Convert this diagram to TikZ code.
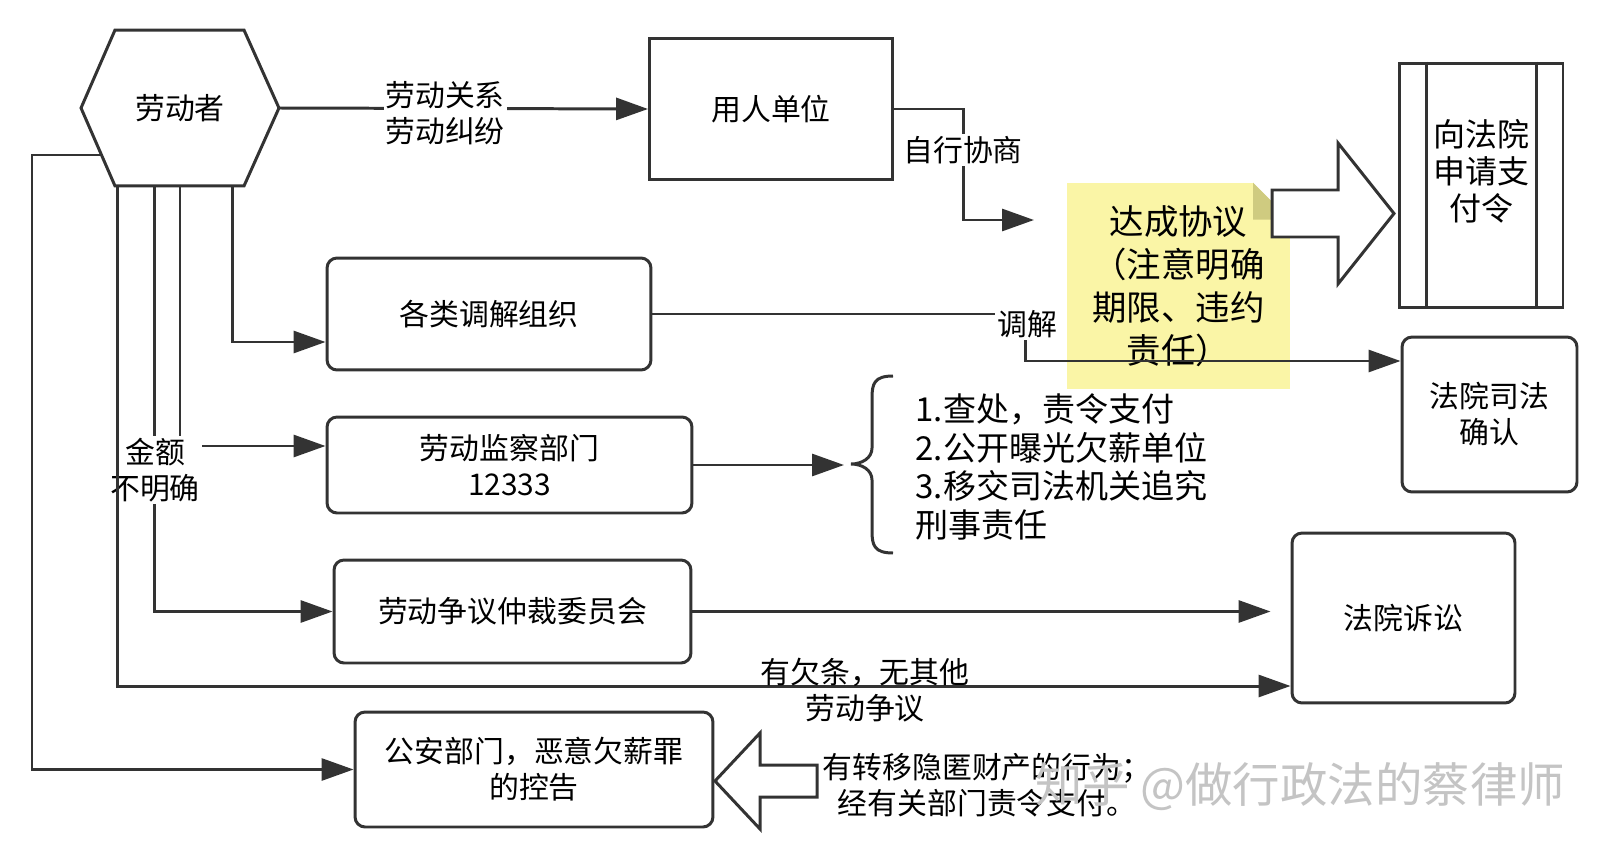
\documentclass[tikz,border=0pt]{standalone}
\usepackage{fontspec}
\setmainfont{Noto Sans CJK SC}
\usetikzlibrary{arrows.meta, positioning, calc}
\definecolor{ink}{HTML}{333333}
\definecolor{notefill}{HTML}{FAF5A6}
\definecolor{notefold}{HTML}{CFCB80}
\definecolor{wmark}{HTML}{C4C4C4}
\newcommand{\fsBase}{\fontsize{17pt}{20.5pt}\selectfont}
\newcommand{\fsNote}{\fontsize{19.6pt}{24.5pt}\selectfont}
\newcommand{\fsPay}{\fontsize{18.2pt}{21pt}\selectfont}
\newcommand{\fsList}{\fontsize{18.8pt}{22pt}\selectfont}

\begin{document}
\begin{tikzpicture}[
  x=0.02cm, y=-0.02cm,
  line width=1.7pt,
  box/.style={draw=ink, line width=1.7pt, align=center, font=\fsBase, inner sep=2pt},
  rbox/.style={box, rounded corners=0.2cm},
  wire/.style={draw=ink, line width=1.7pt},
  arr/.style={wire, -{Triangle[length=0.64cm, width=0.44cm]}},
  lbl/.style={font=\fsBase, align=center, fill=white, inner sep=1pt},
  hollow/.style={draw=ink, line width=1.7pt, fill=white, line join=miter}
]
  \useasboundingbox (0,0) rectangle (1602,848);
  \fill[white] (0,0) rectangle (1602,848);

  % agreement note (behind the connectors)
  \node[fill=notefill, minimum width=4.46cm, minimum height=4.14cm, align=center,
        font=\fsNote, inner sep=0pt, outer sep=0pt] (agree) at (1178.5,286)
        {达成协议\\（注意明确\\期限、违约\\责任）};
  \fill[white] ([xshift=-0.74cm]agree.north east) -- (agree.north east)
        -- ([yshift=-0.74cm]agree.north east) -- cycle;
  \fill[notefold] ([xshift=-0.74cm]agree.north east)
        -- ([xshift=-0.74cm, yshift=-0.74cm]agree.north east)
        -- ([yshift=-0.74cm]agree.north east) -- cycle;

  % worker hexagon
  \node[font=\fsBase, minimum width=3.96cm, minimum height=3.12cm, outer sep=0pt] (worker) at (180,108) {劳动者};
  \draw[wire] (worker.west) -- ([xshift=0.68cm]worker.north west) -- ([xshift=-0.7cm]worker.north east)
        -- (worker.east) -- ([xshift=-0.7cm]worker.south east) -- ([xshift=0.68cm]worker.south west) -- cycle;

  \node[box, minimum width=4.86cm, minimum height=2.84cm] (employer) at (771,109) {用人单位};

  \node[box, minimum width=3.28cm, minimum height=4.9cm] (payorder) at (1481,185.5) {};
  \draw[wire] ([xshift=0.58cm]payorder.north west) -- ([xshift=0.58cm]payorder.south west);
  \draw[wire] ([xshift=-0.56cm]payorder.north east) -- ([xshift=-0.56cm]payorder.south east);
  \node[font=\fsPay, align=center] (paytext) at (1481,171) {向法院\\申请支\\付令};

  \node[rbox, minimum width=6.48cm, minimum height=2.24cm] (mediate) at (489,314) {各类调解组织};
  \node[rbox, minimum width=3.5cm, minimum height=3.1cm] (confirm) at (1489.5,414.5) {法院司法\\确认};
  \node[rbox, minimum width=7.3cm, minimum height=1.92cm] (inspect) at (509.5,465) {劳动监察部门\\12333};
  \node[rbox, minimum width=7.14cm, minimum height=2.06cm] (arbit) at (512.5,611.5) {劳动争议仲裁委员会};
  \node[rbox, minimum width=4.46cm, minimum height=3.4cm] (court) at (1403.5,618) {法院诉讼};
  \node[rbox, minimum width=7.16cm, minimum height=2.3cm] (police) at (534,769.5) {公安部门，恶意欠薪罪\\的控告};

  \node[font=\fsList, align=left, anchor=west, inner sep=0pt] (actions) at (914,467)
        {1.查处，责令支付\\2.公开曝光欠薪单位\\3.移交司法机关追究\\刑事责任};

  \coordinate (negBend) at (963,220);
  \coordinate (negEnd) at (1034,220);
  \coordinate (hexL) at (101,155);
  \coordinate (medBend) at (1025,361);
  \coordinate (medRow) at (0,342);
  \coordinate (amtRow) at (0,446);
  \coordinate (iouRow) at (0,686);
  \coordinate (braceTip) at (844,465);

  % connectors
  \draw[arr] (worker.east) -- node[lbl, pos=0.45, yshift=-0.1cm] {劳动关系\\劳动纠纷} (employer.west);
  \draw[arr] (employer.east) -| (negBend) -- (negEnd);
  \node[lbl] (negLbl) at (963,150) {自行协商};

  \draw[arr] (mediate.east) -| (medBend) -- (medBend -| confirm.west);
  \node[lbl] (medLbl) at (1027,324) {调解};

  \draw[arr] ([xshift=1.06cm]worker.south) |- (medRow -| mediate.west);
  \draw[arr] (worker.south) |- (amtRow -| inspect.west);
  \draw[arr] ([xshift=-0.52cm]worker.south) |- (arbit.west);
  \node[lbl] (amtLbl) at (155,470) {金额\\不明确};
  \draw[arr] ([xshift=-1.26cm]worker.south) |- (iouRow -| court.west);
  \node[lbl, fill=none] (iouLbl) at (865,690) {有欠条，无其他\\劳动争议};
  \draw[arr] (hexL) -- (32,155) |- (police.west);

  \draw[arr, shorten >=0.4cm] (arbit.east) -- (arbit.east -| court.west);
  \draw[arr] (inspect.east) -- (braceTip);

  % brace
  \draw[wire] (893,376) .. controls (874,376) and (872,384) .. (872,398) -- (872,448)
        .. controls (872,458) and (862,464) .. (851,464)
        .. controls (862,464) and (872,470) .. (872,480) -- (872,531)
        .. controls (872,545) and (874,553) .. (893,553);

  % hollow arrows
  \draw[hollow] (1272,190) -- (1338,190) -- (1338,143) -- (1394,213.5) -- (1338,284) -- (1338,237) -- (1272,237) -- cycle;
  \draw[hollow] (817,765) -- (760,765) -- (760,733) -- (715,781) -- (760,829) -- (760,797) -- (817,797) -- cycle;
  \node[lbl, fill=none] (hideLbl) at (987,785) {有转移隐匿财产的行为；\\经有关部门责令支付。};

  \node[font=\fontsize{27pt}{32pt}\selectfont, text=wmark] (wm) at (1300,787) {知乎 @做行政法的蔡律师};
\end{tikzpicture}
\end{document}
